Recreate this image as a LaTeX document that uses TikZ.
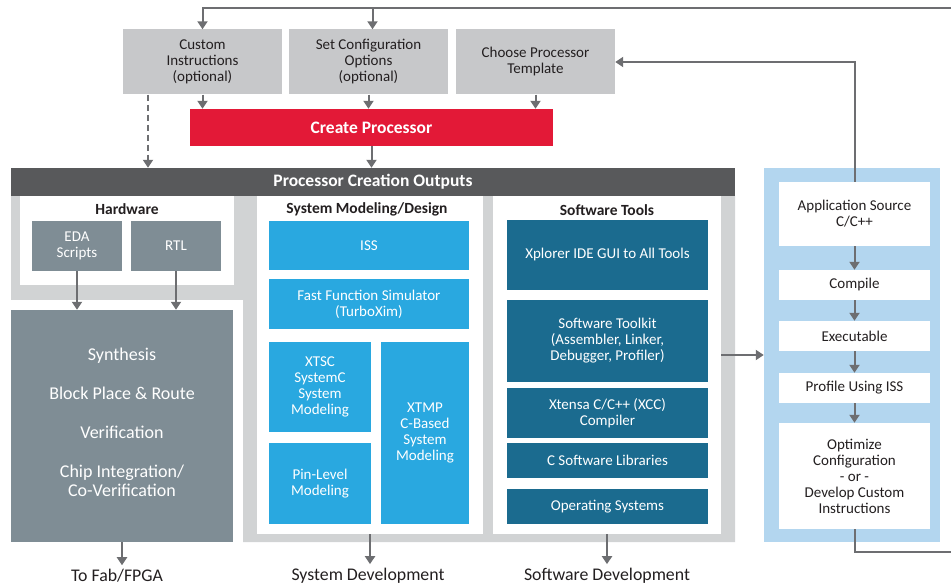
\documentclass[tikz,border=0pt]{standalone}
\usepackage{fontspec}
\setmainfont{Carlito}
\usetikzlibrary{arrows.meta}
\definecolor{topgrey}{HTML}{C7C8CA}
\definecolor{panelgrey}{HTML}{D1D3D4}
\definecolor{headgrey}{HTML}{58595B}
\definecolor{createred}{HTML}{E31937}
\definecolor{sysblue}{HTML}{29A8E0}
\definecolor{swblue}{HTML}{1B6B8F}
\definecolor{hwgrey}{HTML}{7F8D95}
\definecolor{flowblue}{HTML}{B3D6EF}
\definecolor{arrowgrey}{HTML}{6D6E71}
\definecolor{ink}{HTML}{231F20}
\tikzset{
    box/.style={inner sep=0pt, align=center, font=\fontsize{15}{16}\selectfont},
    greybox/.style={box, fill=topgrey, text=ink, minimum width=159pt, minimum height=65pt},
    hwbox/.style={box, fill=hwgrey, text=white, minimum width=90pt, minimum height=50pt},
    sysbox/.style={box, fill=sysblue, text=white},
    swbox/.style={box, fill=swblue, text=white, minimum width=201pt},
    flowbox/.style={box, fill=white, text=ink, minimum width=151pt},
    panel/.style={fill=white, inner sep=0pt},
    paneltitle/.style={text=ink, font=\fontsize{15.5}{17}\selectfont\bfseries},
    outlabel/.style={text=ink, inner sep=4pt, font=\fontsize{17.8}{19}\selectfont},
    link/.style={draw=arrowgrey, line width=2pt},
    arr/.style={link, -{Triangle[length=8pt,width=10pt]}}
}
\begin{document}
\begin{tikzpicture}[x=1pt, y=-1pt]

    \useasboundingbox (0,0) rectangle (951,588);

    % configuration inputs
    \node[greybox] (cust) at (202.5,62) {Custom\\Instructions\\(optional)};
    \node[greybox] (conf) at (368.5,62) {Set Configuration\\Options\\(optional)};
    \node[greybox] (tmpl) at (535.5,62) {Choose Processor\\Template};
    \node[box, fill=createred, text=white, minimum width=363pt, minimum height=37pt, font=\fontsize{17.5}{19}\selectfont\bfseries] (create) at (371.5,127.5) {Create Processor};

    % outputs background
    \fill[panelgrey] (11,196) -- (735,196) -- (735,542) -- (243,542) -- (243,300) -- (11,300) -- cycle;
    \node[box, fill=headgrey, text=white, minimum width=724pt, minimum height=28pt, font=\fontsize{17.5}{19}\selectfont\bfseries] (outputs) at (373,182) {Processor Creation Outputs};

    % hardware
    \node[panel, minimum width=214pt, minimum height=89pt] (hwp) at (127,240.5) {};
    \node[paneltitle] (hwtitle) at (127,209) {Hardware};
    \node[hwbox] (eda) at (77,246) {EDA\\Scripts};
    \node[hwbox] (rtl) at (176,246) {RTL};
    \node[fill=hwgrey, inner sep=0pt, minimum width=222pt, minimum height=232pt] (synth) at (122,426) {};
    \node[text=white, align=center, font=\fontsize{18}{19}\selectfont] (synthlist) at ([yshift=4pt]synth.center)
        {Synthesis\\[20pt]Block Place \& Route\\[20pt]Verification\\[20pt]Chip Integration/\\Co-Verification};

    % system modeling
    \node[panel, minimum width=226pt, minimum height=338pt] (sysp) at (370,365) {};
    \node[paneltitle] (systitle) at (367,209) {System Modeling/Design};
    \node[sysbox, minimum width=200pt, minimum height=49pt] (iss) at (369,245.5) {ISS};
    \node[sysbox, minimum width=200pt, minimum height=50pt] (ffs) at (369,304) {Fast Function Simulator\\(TurboXim)};
    \node[sysbox, minimum width=102pt, minimum height=90pt] (xtsc) at (320,387) {XTSC\\SystemC\\System\\Modeling};
    \node[sysbox, minimum width=88pt, minimum height=182pt] (xtmp) at (425,433) {XTMP\\C-Based\\System\\Modeling};
    \node[sysbox, minimum width=102pt, minimum height=81pt] (pin) at (320,483.5) {Pin-Level\\Modeling};

    % software tools
    \node[panel, minimum width=228pt, minimum height=338pt] (swp) at (607,365) {};
    \node[paneltitle] (swtitle) at (607,210) {Software Tools};
    \node[swbox, minimum height=70pt] (xpl) at (607.5,255) {Xplorer IDE GUI to All Tools};
    \node[swbox, minimum height=82pt] (kit) at (607.5,341) {Software Toolkit\\(Assembler, Linker,\\Debugger, Profiler)};
    \node[swbox, minimum height=50pt] (xcc) at (607.5,413) {Xtensa C/C++ (XCC)\\Compiler};
    \node[swbox, minimum height=35pt] (clib) at (607.5,460.5) {C Software Libraries};
    \node[swbox, minimum height=35pt] (os) at (607.5,506.5) {Operating Systems};

    % application flow
    \node[fill=flowblue, inner sep=0pt, minimum width=176pt, minimum height=374pt] (flow) at (852,355) {};
    \node[flowbox, minimum height=64pt] (app) at (854.5,214) {Application Source\\C/C++};
    \node[flowbox, minimum height=30pt] (comp) at (854.5,285) {Compile};
    \node[flowbox, minimum height=30pt] (exe) at (854.5,336) {Executable};
    \node[flowbox, minimum height=30pt] (prof) at (854.5,388) {Profile Using ISS};
    \node[flowbox, minimum height=106pt] (opt) at (854.5,476) {Optimize\\Configuration\\- or -\\Develop Custom\\Instructions};

    % results
    \node[outlabel] (fab) at (117,576) {To Fab/FPGA};
    \node[outlabel] (sysdev) at (368,576) {System Development};
    \node[outlabel] (swdev) at (607,576) {Software Development};

    % connectors
    \coordinate (loopT) at (951,8);
    \coordinate (loopB) at (951,552);
    \draw[arr] (loopT) -| (cust.north);
    \draw[arr] ([xshift=4pt]conf.north |- loopT) -- ([xshift=4pt]conf.north);
    \draw[arr] (cust.south) -- (cust.south |- create.north);
    \draw[arr] (conf.south) -- (conf.south |- create.north);
    \draw[arr] (tmpl.south) -- (tmpl.south |- create.north);
    \draw[arr, dash pattern=on 6pt off 4pt] ([xshift=-54.5pt]cust.south) -- ([xshift=-54.5pt]cust.south |- outputs.north);
    \draw[arr] (create.south) -- (create.south |- outputs.north);
    \draw[arr] (eda.south) -- (eda.south |- synth.north);
    \draw[arr] (rtl.south) -- (rtl.south |- synth.north);
    \draw[arr] (synth.south) -- (synth.south |- fab.north);
    \draw[arr] (sysp.south) -- (sysp.south |- sysdev.north);
    \draw[arr] (swp.south) -- (swp.south |- swdev.north);
    \draw[arr] (swp.east |- flow.west) -- (flow.west);
    \draw[arr] (app.north) |- (tmpl.east);
    \draw[arr] (app) -- (comp);
    \draw[arr] (comp) -- (exe);
    \draw[arr] (exe) -- (prof);
    \draw[arr] (prof) -- (opt);
    \draw[link] (opt.south) |- (loopB);
\end{tikzpicture}
\end{document}
